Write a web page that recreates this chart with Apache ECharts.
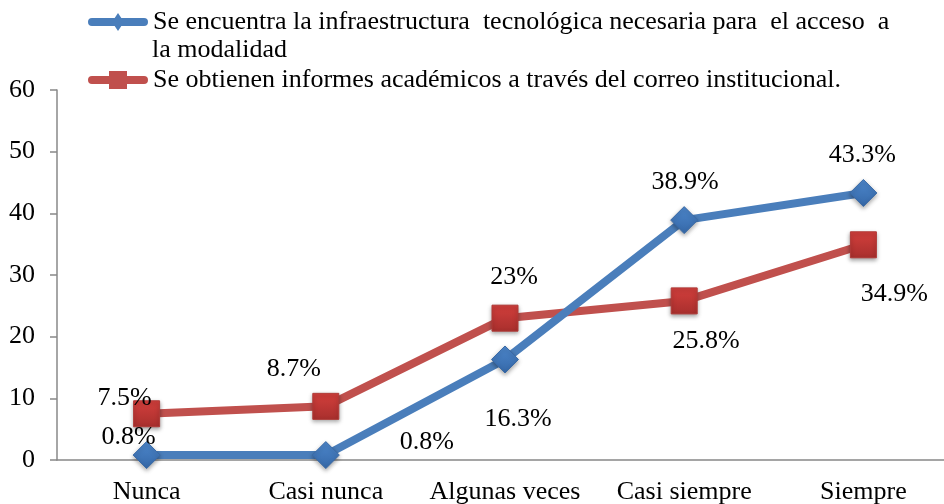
<!DOCTYPE html>
<html>
<head>
<meta charset="utf-8">
<script src="https://cdn.jsdelivr.net/npm/echarts@6/dist/echarts.min.js"></script>
<style>
html,body{margin:0;padding:0;background:#fff;}
#chart{width:944px;height:504px;}
</style>
</head>
<body>
<div id="chart"></div>
<script>
const categories = ['Nunca', 'Casi nunca', 'Algunas veces', 'Casi siempre', 'Siempre'];
const seriesNames = [
  'Se encuentra la infraestructura  tecnológica necesaria para  el acceso  a',
  'Se obtienen informes académicos a través del correo institucional.'
];
const legendContinuation = 'la modalidad';
const infraestructura = [0.8, 0.8, 16.3, 38.9, 43.3];
const informes = [7.5, 8.7, 23, 25.8, 34.9];
const yTicks = { min: 0, max: 60, interval: 10 };

const FONT = '"Liberation Serif", "Times New Roman", serif';
const FS = 26;

function mkData(values, offsets) {
  return values.map((v, i) => ({
    value: v,
    label: { offset: offsets[i] }
  }));
}

const chart = echarts.init(document.getElementById('chart'), null, { renderer: 'canvas' });

const blueLine = '#4a7ebb';
const redLine = '#c0504d';

const barPath = 'M4,5 H56 A4,4 0 0 1 56,13 H4 A4,4 0 0 1 4,5 Z';
const blueIcon = 'path://' + barPath + ' M30,0 L36,9 L30,18 L24,9 Z';
const redIcon = 'path://' + barPath + ' M21,0 H39 V18 H21 Z';

const option = {
  backgroundColor: '#ffffff',
  animation: false,
  textStyle: { fontFamily: FONT },
  grid: { left: 57, width: 896, top: 90, bottom: 44, containLabel: false, outerBoundsMode: 'none' },
  legend: {
    orient: 'vertical',
    left: 88,
    top: 9,
    padding: 0,
    itemWidth: 60,
    itemHeight: 18,
    itemGap: 32,
    data: [
      { name: seriesNames[0], icon: blueIcon, itemStyle: { color: blueLine, borderWidth: 0, shadowBlur: 0 } },
      { name: seriesNames[1], icon: redIcon, itemStyle: { color: redLine, borderWidth: 0, shadowBlur: 0 } }
    ],
    textStyle: { fontFamily: FONT, fontSize: FS, color: '#000' }
  },
  graphic: [{
    type: 'text',
    left: 152,
    top: 37,
    style: { text: legendContinuation, font: FS + 'px ' + FONT, fill: '#000' }
  }],
  xAxis: {
    type: 'category',
    data: categories,
    boundaryGap: true,
    axisLine: { lineStyle: { color: '#888', width: 1.5 } },
    axisTick: { show: false },
    axisLabel: { fontFamily: FONT, fontSize: FS, color: '#000', margin: 19, interval: 0 },
    splitLine: { show: false }
  },
  yAxis: {
    type: 'value',
    min: yTicks.min,
    max: yTicks.max,
    interval: yTicks.interval,
    axisLine: { show: true, lineStyle: { color: '#888', width: 1.5 } },
    axisTick: { show: true, inside: false, length: 7, lineStyle: { color: '#888', width: 1.5 } },
    axisLabel: { fontFamily: FONT, fontSize: FS, color: '#000', margin: 22 },
    splitLine: { show: false }
  },
  series: [
    {
      name: seriesNames[0],
      type: 'line',
      z: 3,
      data: mkData(infraestructura, [[-18, -18], [101, -13], [13, 60], [1, -38], [-1, -38]]),
      symbol: 'diamond',
      symbolSize: 27,
      lineStyle: { color: blueLine, width: 8 },
      itemStyle: {
        color: new echarts.graphic.LinearGradient(0, 0, 0, 1, [
          { offset: 0, color: '#4d87cc' },
          { offset: 1, color: '#3568a8' }
        ]),
        borderColor: '#3a6aa6',
        borderWidth: 1,
        shadowColor: 'rgba(0,0,0,0.35)',
        shadowBlur: 4,
        shadowOffsetY: 2
      },
      label: {
        show: true,
        position: 'inside',
        formatter: p => p.value + '%',
        fontFamily: FONT,
        fontSize: FS,
        color: '#000',
        align: 'center',
        verticalAlign: 'middle'
      }
    },
    {
      name: seriesNames[1],
      type: 'line',
      z: 2,
      data: mkData(informes, [[-22, -16], [-32, -37], [9, -41], [22, 40], [31, 49]]),
      symbol: 'rect',
      symbolSize: 26,
      lineStyle: { color: redLine, width: 8 },
      itemStyle: {
        color: new echarts.graphic.LinearGradient(0, 0, 0, 1, [
          { offset: 0, color: '#d33f3c' },
          { offset: 1, color: '#a82f2d' }
        ]),
        borderColor: '#b03a37',
        borderWidth: 1,
        shadowColor: 'rgba(0,0,0,0.35)',
        shadowBlur: 4,
        shadowOffsetY: 2
      },
      label: {
        show: true,
        position: 'inside',
        formatter: p => p.value + '%',
        fontFamily: FONT,
        fontSize: FS,
        color: '#000',
        align: 'center',
        verticalAlign: 'middle'
      }
    }
  ]
};

chart.setOption(option);
</script>
</body>
</html>
